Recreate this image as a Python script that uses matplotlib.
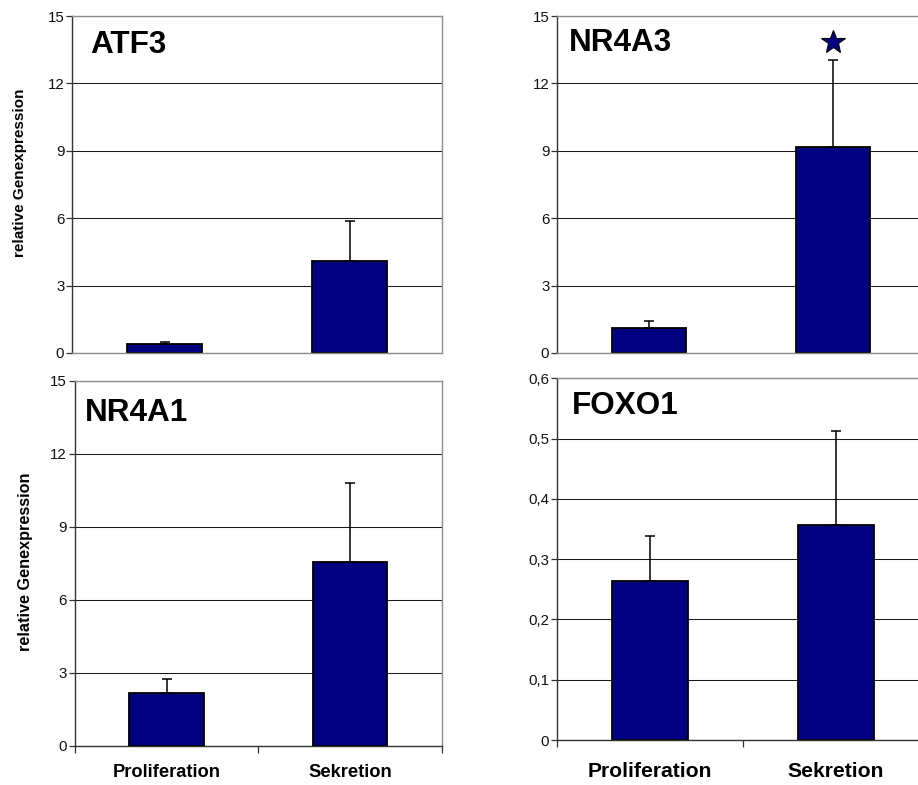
import matplotlib
matplotlib.use("Agg")
import matplotlib.pyplot as plt
import matplotlib.transforms as mtransforms
from matplotlib.ticker import FuncFormatter

plt.rcParams['font.family'] = ['Liberation Sans', 'DejaVu Sans']

# Data
categories = ['Proliferation', 'Sekretion']
atf3_mean = [0.42, 4.09]
atf3_err = [0.08, 1.77]
nr4a3_mean = [1.10, 9.18]
nr4a3_err = [0.32, 3.86]
nr4a1_mean = [2.15, 7.55]
nr4a1_err = [0.59, 3.26]
foxo1_mean = [0.263, 0.357]
foxo1_err = [0.075, 0.155]
nr4a3_star = 13.83

W, H = 918, 785
DPI = 100
fig = plt.figure(figsize=(W / DPI, H / DPI), dpi=DPI)

BAR = '#000080'
GRID = '#1a1a1a'
FRAME = '#8c8c8c'
AXIS = '#333333'


def rect(left, top, right, bottom):
    return [left / W, 1 - bottom / H, (right - left) / W, (bottom - top) / H]


def panel(r, means, errs, title, title_pos, ymax, ystep, bottom_row,
          fmt=None, xlab_size=13, xlab_y=-0.074):
    ax = fig.add_axes(r)
    ax.set_axisbelow(True)
    x = list(range(len(categories)))
    ax.bar(x, means, width=0.405, color=BAR, edgecolor='black', linewidth=1.3, zorder=2)
    ax.errorbar(x, means, yerr=[[0] * len(errs), errs], fmt='none', ecolor='black',
                elinewidth=1.1, capsize=3.8, capthick=1.1, zorder=3)
    ax.set_xlim(-0.5, 1.5)
    ax.set_ylim(0, ymax)
    n = int(round(ymax / ystep))
    ax.set_yticks([i * ystep for i in range(n + 1)])
    if fmt is not None:
        ax.yaxis.set_major_formatter(FuncFormatter(fmt))
    ax.yaxis.grid(True, color=GRID, linewidth=0.75)
    ax.tick_params(axis='y', length=4, width=0.9, color=AXIS, pad=1.5,
                   labelsize=10.8, labelcolor='#111111')
    for s in ('top', 'right'):
        ax.spines[s].set_color(FRAME)
        ax.spines[s].set_linewidth(1.0)
    ax.spines['left'].set_color(AXIS)
    ax.spines['left'].set_linewidth(1.0)
    if bottom_row:
        ax.spines['bottom'].set_color(AXIS)
        ax.spines['bottom'].set_linewidth(1.0)
        ax.set_xticks([-0.5, 0.5, 1.5])
        ax.set_xticklabels([])
        ax.tick_params(axis='x', length=5, width=0.9, color=AXIS, direction='out')
        trans = mtransforms.blended_transform_factory(ax.transData, ax.transAxes)
        for xi, lab in zip(x, categories):
            ax.text(xi, xlab_y, lab, transform=trans, ha='center', va='center',
                    fontsize=xlab_size, fontweight='bold')
    else:
        ax.spines['bottom'].set_color(FRAME)
        ax.spines['bottom'].set_linewidth(1.0)
        ax.set_xticks([])
    ax.text(title_pos[0], title_pos[1], title, transform=ax.transAxes,
            ha='left', va='center', fontsize=22.7, fontweight='bold')
    return ax


def comma(v, pos):
    if abs(v) < 1e-9:
        return '0'
    return f'{v:.1f}'.replace('.', ',')


panel(rect(72, 16, 442, 353), atf3_mean, atf3_err, 'ATF3', (0.05, 0.914), 15, 3, False)
ax_b = panel(rect(557, 16, 925, 353), nr4a3_mean, nr4a3_err, 'NR4A3', (0.033, 0.92), 15, 3, False)
ax_b.plot([1], [nr4a3_star], marker='*', markersize=18, color=BAR,
          markeredgecolor='black', markeredgewidth=0.8, linestyle='none', zorder=4)
panel(rect(74.7, 380.7, 442, 745.7), nr4a1_mean, nr4a1_err, 'NR4A1', (0.028, 0.911), 15, 3, True,
      xlab_size=13.2, xlab_y=-0.074)
panel(rect(557, 378.3, 929, 740), foxo1_mean, foxo1_err, 'FOXO1', (0.041, 0.923), 0.6, 0.1, True,
      fmt=comma, xlab_size=15.2, xlab_y=-0.0876)

fig.text(20.5 / W, 1 - 173 / H, 'relative Genexpression', rotation=90, ha='center', va='center',
         fontsize=11, fontweight='bold')
fig.text(25.5 / W, 1 - 562 / H, 'relative Genexpression', rotation=90, ha='center', va='center',
         fontsize=11.7, fontweight='bold')

fig.savefig('out.png', dpi=DPI)
